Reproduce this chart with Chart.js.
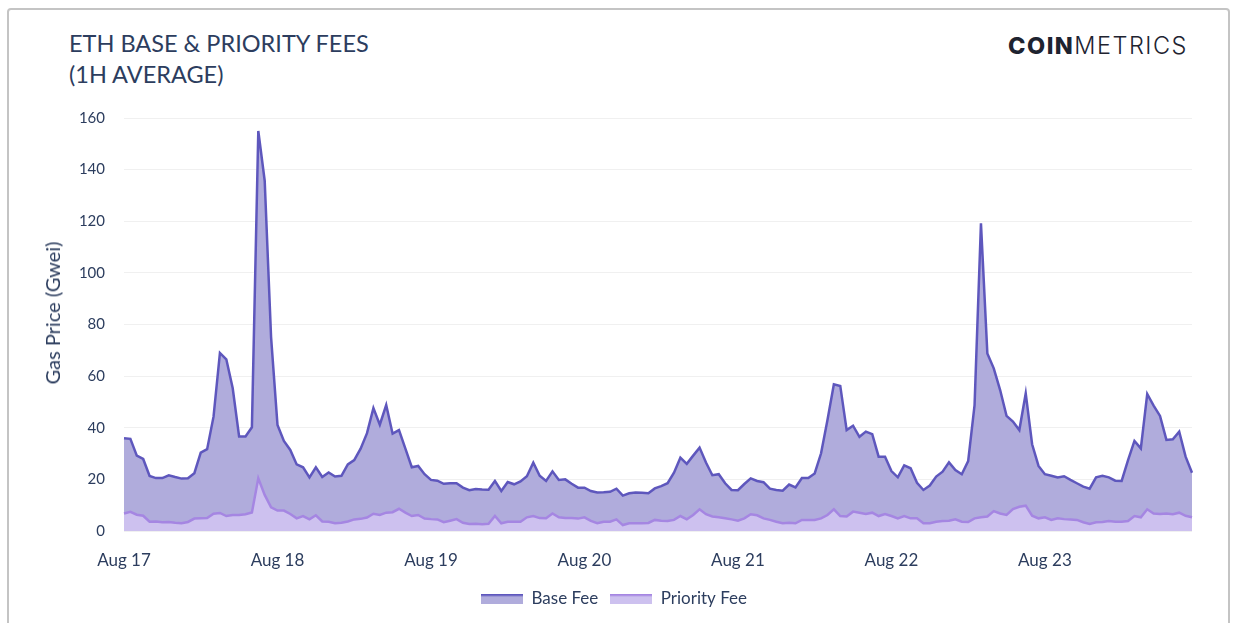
<!DOCTYPE html>
<html>
<head>
<meta charset="utf-8">
<script src="https://cdn.jsdelivr.net/npm/chart.js@4"></script>
<style>
  html, body { margin: 0; padding: 0; background: #fff; }
  body { width: 1239px; height: 623px; position: relative; overflow: hidden; font-family: Lato, sans-serif; }
  .card { position: absolute; left: 7px; top: 8px; width: 1219px; height: 640px; border: 2px solid #c4c4c4; border-radius: 4px; }
  .title { position: absolute; left: 69px; top: 28px; color: #2c3d5e; font-size: 23.5px; line-height: 31px; }
  .logo { position: absolute; left: 1008px; top: 31px; color: #1e2330; font-family: Inter, sans-serif; font-size: 23.5px; letter-spacing: 1.5px; }
  .logo b { font-weight: 800; }
  .logo span { font-weight: 300; }
  .ytitle { position: absolute; left: 52px; top: 313px; transform: translate(-50%, -50%) rotate(-90deg); white-space: nowrap; color: #2c3d5e; font-size: 20px; }
  canvas { position: absolute; left: 0; top: 0; }
</style>
</head>
<body>
<div class="card"></div>
<div class="title">ETH BASE &amp; PRIORITY FEES<br>(1H AVERAGE)</div>
<div class="logo"><b>COIN</b><span>METRICS</span></div>
<canvas id="myChart" width="1239" height="623"></canvas>
<div class="ytitle">Gas Price (Gwei)</div>
<script>
const days = ["Aug 17", "Aug 18", "Aug 19", "Aug 20", "Aug 21", "Aug 22", "Aug 23"];

// hourly averages, one row per day (Gwei)
const baseFee = [
  35.9, 35.7, 29.2, 27.9, 21.3, 20.5, 20.5, 21.6, 20.9, 20.3, 20.4, 22.4, 30.4, 31.7, 44.3, 69.0, 66.5, 55.3, 36.6, 36.6, 40.2, 155.0, 135.7, 75.0,
  41.1, 34.9, 31.4, 25.8, 24.7, 20.8, 24.7, 20.9, 22.7, 21.1, 21.4, 25.8, 27.5, 31.9, 37.9, 47.6, 41.2, 48.8, 37.7, 39.1, 31.9, 24.7, 25.2, 22.0,
  19.8, 19.5, 18.3, 18.5, 18.5, 16.8, 15.8, 16.3, 16.1, 16.0, 19.4, 15.5, 19.0, 18.1, 19.2, 21.2, 26.5, 21.4, 19.4, 23.1, 19.8, 20.0, 18.3, 16.8,
  16.8, 15.5, 14.9, 15.0, 15.2, 16.4, 13.7, 14.6, 14.9, 14.8, 14.6, 16.5, 17.4, 18.5, 22.6, 28.4, 26.0, 29.2, 32.3, 26.5, 21.6, 22.0, 18.5, 15.9,
  15.8, 18.2, 20.4, 19.4, 18.9, 16.4, 15.9, 15.6, 18.0, 16.9, 20.5, 20.5, 22.3, 30.1, 43.0, 56.8, 56.2, 39.1, 40.8, 36.5, 38.5, 37.5, 28.8, 28.8,
  23.2, 20.8, 25.4, 24.3, 18.7, 15.9, 17.6, 21.1, 23.0, 26.6, 23.6, 22.0, 27.1, 48.8, 119.2, 68.8, 63.0, 54.6, 44.6, 42.4, 39.1, 53.3, 33.6, 25.2,
  22.0, 21.4, 20.7, 21.2, 19.8, 18.5, 17.2, 16.4, 20.8, 21.4, 20.8, 19.5, 19.4, 27.5, 34.9, 32.0, 53.1, 48.6, 44.6, 35.3, 35.5, 38.5, 28.8, 22.6
];

const priorityFee = [
  6.8, 7.4, 6.3, 5.9, 3.6, 3.7, 3.4, 3.5, 3.2, 3.0, 3.5, 4.8, 4.9, 5.0, 6.7, 7.0, 5.8, 6.2, 6.2, 6.5, 7.2, 20.4, 14.0, 9.2,
  7.9, 7.9, 6.6, 4.9, 5.8, 4.5, 6.1, 3.7, 3.6, 3.0, 3.2, 3.7, 4.5, 4.7, 5.2, 6.7, 6.2, 7.1, 7.3, 8.6, 7.1, 5.8, 6.2, 4.8,
  4.6, 4.5, 3.4, 4.0, 4.6, 3.2, 2.7, 2.8, 2.6, 2.8, 5.8, 3.0, 3.6, 3.6, 3.6, 5.3, 5.8, 5.0, 4.9, 6.8, 5.3, 5.0, 5.0, 4.8,
  5.3, 3.9, 3.0, 3.6, 3.6, 4.5, 2.3, 3.0, 3.0, 3.0, 3.1, 4.3, 4.0, 3.9, 4.3, 5.8, 4.5, 6.2, 8.4, 6.5, 5.6, 5.3, 4.9, 4.5,
  4.0, 4.9, 6.5, 6.1, 4.9, 4.3, 3.6, 3.0, 3.2, 3.0, 4.3, 4.3, 4.3, 4.9, 6.2, 8.4, 5.8, 5.6, 7.5, 7.1, 6.6, 7.1, 5.8, 6.6,
  5.8, 4.9, 5.8, 4.9, 4.9, 3.0, 3.0, 3.6, 3.9, 4.0, 4.5, 3.6, 3.5, 4.9, 5.3, 5.6, 7.7, 6.8, 6.2, 8.5, 9.4, 9.8, 5.9, 4.9,
  5.3, 4.3, 4.9, 4.6, 4.5, 4.3, 3.4, 2.7, 3.4, 3.5, 3.9, 3.6, 3.6, 3.9, 5.8, 5.3, 8.4, 6.8, 6.6, 6.8, 6.5, 7.1, 5.9, 5.3
];

const yTicks = [0, 20, 40, 60, 80, 100, 120, 140, 160];

const hours = days.flatMap((d) => Array.from({ length: 24 }, (_, h) => d + " " + h + ":00"));

const textColor = "#2c3d5e";

// wide legend swatch: dark line on top of the fill colour
function swatch(line, fill) {
  const c = document.createElement("canvas");
  c.width = 42;
  c.height = 10;
  const x = c.getContext("2d");
  x.fillStyle = fill;
  x.fillRect(0, 0, 42, 10);
  x.fillStyle = line;
  x.fillRect(0, 0, 42, 2.5);
  return c;
}

// centre the legend on the whole card instead of the padded box
const legendShift = {
  id: "legendShift",
  afterLayout(c) {
    c.legend.left += 18;
    c.legend.right += 18;
  },
};

let ctx = document.getElementById("myChart").getContext("2d");
let chart = new Chart(ctx, {
  type: "line",
  data: {
    labels: hours,
    datasets: [
      {
        label: "Base Fee",
        data: baseFee,
        borderColor: "#5e57bd",
        backgroundColor: "#b0acdc",
        borderWidth: 2.5,
        fill: "origin",
        pointRadius: 0,
        pointStyle: swatch("#5e57bd", "#b0acdc"),
        tension: 0,
        order: 1,
      },
      {
        label: "Priority Fee",
        data: priorityFee,
        borderColor: "#a586e2",
        backgroundColor: "#cdc1ef",
        borderWidth: 2.5,
        fill: "origin",
        pointRadius: 0,
        pointStyle: swatch("#a586e2", "#cdc1ef"),
        tension: 0,
        order: 0,
      },
    ],
  },
  options: {
    responsive: false,
    animation: false,
    layout: { padding: { top: 118, left: 0, right: 47, bottom: 6 } },
    plugins: {
      tooltip: { enabled: false },
      legend: {
        position: "bottom",
        labels: {
          usePointStyle: true,
          pointStyleWidth: 42,
          boxHeight: 10,
          padding: 12,
          color: textColor,
          font: { family: "Lato", size: 17 },
          sort: (a, b) => a.datasetIndex - b.datasetIndex,
        },
      },
    },
    scales: {
      x: {
        grid: { display: false, drawTicks: false },
        border: { display: false },
        ticks: {
          autoSkip: false,
          maxRotation: 0,
          padding: 19,
          color: textColor,
          font: { family: "Lato", size: 17 },
          callback: (v, i) => (i % 24 === 0 ? days[i / 24] : ""),
        },
        afterFit: (scale) => { scale.height = 47; },
      },
      y: {
        min: 0,
        max: 160,
        grid: { color: "#f0f0f0", drawTicks: false },
        border: { display: false },
        afterBuildTicks: (scale) => { scale.ticks = yTicks.map((v) => ({ value: v })); },
        ticks: {
          padding: 19,
          color: textColor,
          font: { family: "Lato", size: 15 },
        },
        afterFit: (scale) => { scale.width = 124; },
      },
    },
  },
  plugins: [legendShift],
});
</script>
</body>
</html>
